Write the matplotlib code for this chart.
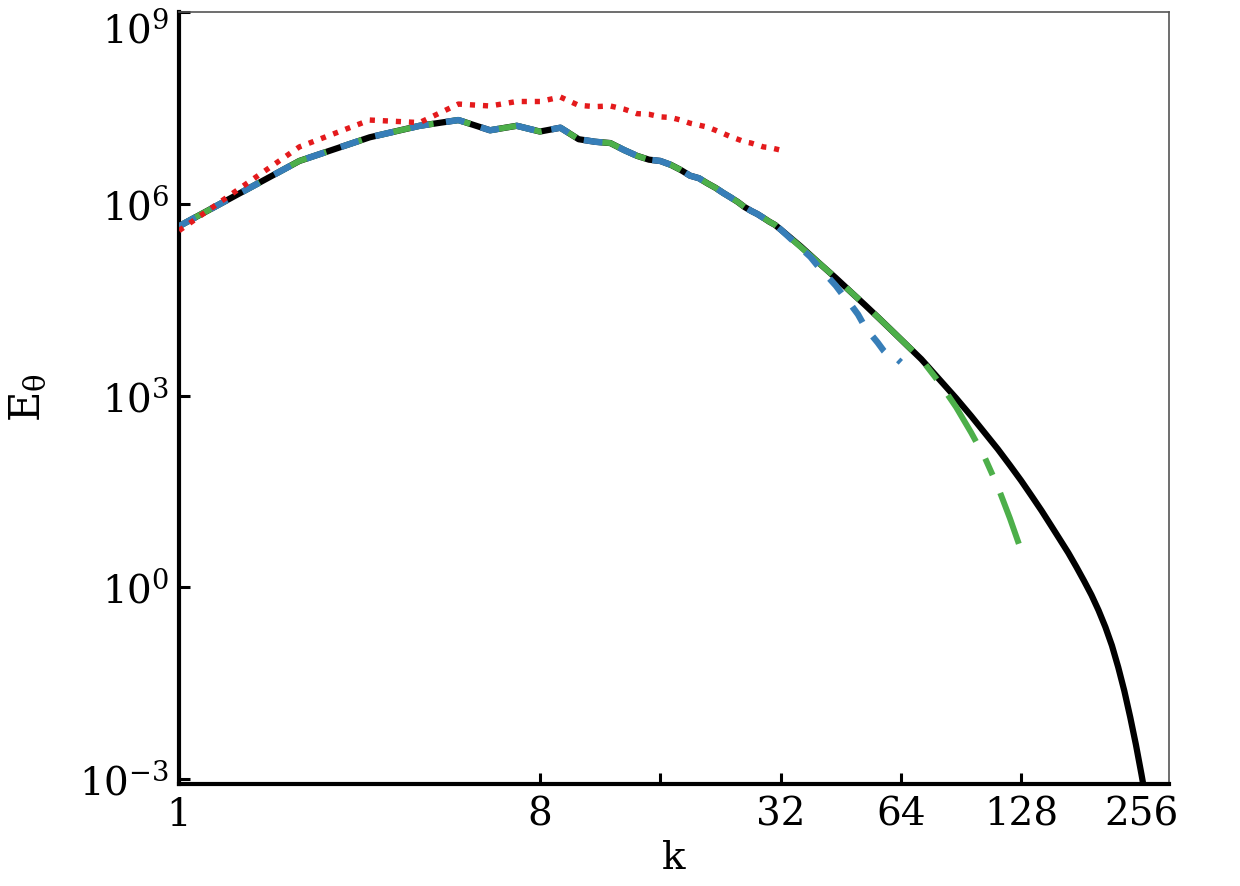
import numpy as np
import matplotlib
matplotlib.use("Agg")
import matplotlib.pyplot as plt
import matplotlib.transforms as mtransforms

plt.rcParams['font.family'] = ['DejaVu Serif']
plt.rcParams['mathtext.fontset'] = 'dejavuserif'
plt.rcParams['lines.scale_dashes'] = False

# ---- data (log10 of E_theta) ----
k_low = list(range(1, 33))
black_low_log = [5.65, 6.67, 7.04, 7.22, 7.31, 7.15, 7.22, 7.13, 7.19, 7.01,
                 6.97, 6.95, 6.84, 6.75, 6.69, 6.67, 6.61, 6.53, 6.44, 6.40,
                 6.32, 6.25, 6.17, 6.10, 6.03, 5.95, 5.89, 5.84, 5.78, 5.72,
                 5.67, 5.60]

k_black_tail = [36, 40, 44, 48, 52, 56, 60, 64, 72, 80, 88, 96, 104, 112, 120,
                128, 136, 144, 152, 160, 168, 176, 184, 192, 200, 208, 216,
                224, 232, 240, 248, 256, 264]
black_tail_log = [5.33, 5.07, 4.84, 4.62, 4.42, 4.23, 4.05, 3.88, 3.57, 3.25,
                  2.96, 2.68, 2.41, 2.16, 1.91, 1.67, 1.43, 1.20, 0.97, 0.75,
                  0.54, 0.32, 0.10, -0.12, -0.36, -0.62, -0.91, -1.25, -1.62,
                  -2.03, -2.46, -2.92, -3.39]

k_blue_tail = [36, 38, 40, 42, 44, 46, 48, 50, 52, 54, 56, 58, 60, 62, 64]
blue_tail_log = [5.33, 5.17, 5.00, 4.86, 4.72, 4.56, 4.42, 4.27, 4.08, 3.95,
                 3.83, 3.70, 3.61, 3.60, 3.52]

k_green_tail = [36, 40, 44, 48, 52, 56, 60, 64, 72, 80, 88, 96, 104, 112, 120, 128]
green_tail_log = [5.33, 5.07, 4.84, 4.62, 4.42, 4.23, 4.05, 3.88, 3.57, 3.20,
                  2.82, 2.42, 2.02, 1.57, 1.08, 0.58]

red_log = [5.58, 6.89, 7.31, 7.27, 7.56, 7.53, 7.60, 7.60, 7.67, 7.54,
           7.52, 7.53, 7.48, 7.41, 7.40, 7.36, 7.35, 7.31, 7.26, 7.23,
           7.20, 7.15, 7.10, 7.05, 7.01, 6.97, 6.95, 6.92, 6.89, 6.88,
           6.86, 6.84]

xticks = [1, 8, 16, 32, 64, 128, 256]
xticklabels = ['1', '8', '', '32', '64', '128', '256']
yticks = [1e-3, 1e0, 1e3, 1e6, 1e9]
yticklabels = [r'$10^{-3}$', r'$10^{0}$', r'$10^{3}$', r'$10^{6}$', r'$10^{9}$']

# ---- build series ----
k_black = np.array(k_low + k_black_tail)
E_black = 10.0 ** np.array(black_low_log + black_tail_log)
k_blue = np.array(k_low + k_blue_tail[1:])
E_blue = 10.0 ** np.array(black_low_log + blue_tail_log[1:])
k_green = np.array(k_low + k_green_tail[1:])
E_green = 10.0 ** np.array(black_low_log + green_tail_log[1:])
k_red = np.array(k_low)
E_red = 10.0 ** np.array(red_log)

fig = plt.figure(figsize=(12.4, 8.86), dpi=100)
ax = fig.add_axes([0.1444, 0.1151, 0.9427 - 0.1444, 0.98646 - 0.1151])

ax.plot(k_black, E_black, color='black', lw=4.5, solid_capstyle='butt',
        solid_joinstyle='round', zorder=2)
ax.plot(k_green, E_green, color='#4daf4a', lw=4.3,
        linestyle=(0, (39, 14, 13, 14)), zorder=3)
ax.plot(k_blue, E_blue, color='#377eb8', lw=4.6,
        linestyle=(0, (13.5, 12.5)), zorder=4)
ax.plot(k_red, E_red, color='#e41a1c', lw=3.9,
        linestyle=(0, (3.7, 5.7)), zorder=5)

ax.set_xscale('log')
ax.set_yscale('log')
ax.set_xlim(1, 300)
ax.set_ylim(8.4e-4, 1e9)

ax.set_xticks(xticks)
ax.set_xticklabels(xticklabels)
ax.set_yticks(yticks)
ax.set_yticklabels(yticklabels)
ax.minorticks_off()

ax.tick_params(axis='both', which='major', direction='in', length=8, width=2.2,
               labelsize=28, top=False, right=False)
ax.tick_params(axis='x', pad=9)
ax.tick_params(axis='y', pad=7)

# top tick label sits lower so it stays inside the figure (as in the reference)
offset = mtransforms.ScaledTranslation(0, -0.15, fig.dpi_scale_trans)
top_label = ax.get_yticklabels()[-1]
top_label.set_transform(top_label.get_transform() + offset)

for s in ['left', 'bottom']:
    ax.spines[s].set_linewidth(3)
    ax.spines[s].set_color('black')
for s in ['top', 'right']:
    ax.spines[s].set_linewidth(1.2)
    ax.spines[s].set_color('#555555')

ax.set_xlabel('k', fontsize=28, labelpad=5)
ax.set_ylabel(r'$\mathrm{E}_{\mathrm{θ}}$', fontsize=30, labelpad=22)

fig.savefig('out.png', dpi=100)
